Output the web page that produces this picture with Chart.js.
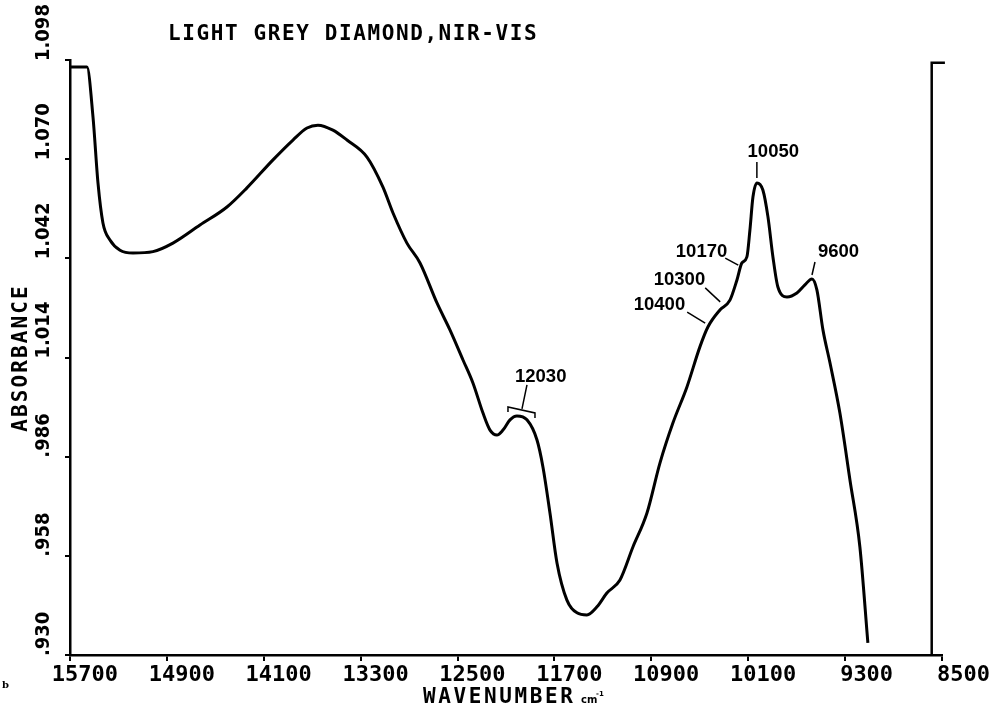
<!DOCTYPE html>
<html>
<head>
<meta charset="utf-8">
<title>Light grey diamond, NIR-VIS</title>
<script src="https://cdn.jsdelivr.net/npm/chart.js@4.4.1/dist/chart.umd.min.js"></script>
<style>
  html, body { margin: 0; padding: 0; background: #fff; }
  #wrap { width: 1002px; height: 709px; }
</style>
</head>
<body>
<div id="wrap"><canvas id="spectrum" width="1002" height="709"></canvas></div>
<script>
// spectrum: wavenumber (cm-1) and absorbance
var wavenumbers = [
  15700, 15560, 15510, 15469, 15428, 15370, 15287, 15180, 15015, 14850,
  14627, 14404, 14239, 14024, 13859, 13743, 13653, 13529, 13413, 13248,
  13116, 13033, 12918, 12810, 12670, 12563, 12455, 12373, 12290, 12232,
  12175, 12125, 12067, 12010, 11927, 11844, 11795, 11737, 11679, 11597,
  11514, 11432, 11349, 11267, 11159, 11052, 10936, 10829, 10722, 10606,
  10499, 10433, 10334, 10251, 10193, 10152, 10111, 10086, 10061, 10028,
  9979, 9937, 9896, 9855, 9780, 9698, 9632, 9574, 9533, 9483,
  9425, 9343, 9260, 9178, 9112
];
var absorbance = [
  1.0960, 1.0960, 1.0819, 1.0633, 1.0520, 1.0472, 1.0443, 1.0435, 1.0439, 1.0463,
  1.0514, 1.0565, 1.0619, 1.0698, 1.0754, 1.0788, 1.0796, 1.0782, 1.0754, 1.0706,
  1.0621, 1.0548, 1.0463, 1.0407, 1.0294, 1.0218, 1.0133, 1.0068, 0.9983, 0.9935,
  0.9921, 0.9935, 0.9964, 0.9975, 0.9964, 0.9907, 0.9831, 0.9701, 0.9560, 0.9455,
  0.9419, 0.9413, 0.9436, 0.9475, 0.9512, 0.9605, 0.9701, 0.9842, 0.9955, 1.0057,
  1.0170, 1.0226, 1.0274, 1.0302, 1.0359, 1.0407, 1.0424, 1.0500, 1.0593, 1.0633,
  1.0613, 1.0537, 1.0424, 1.0339, 1.0311, 1.0322, 1.0345, 1.0362, 1.0331, 1.0218,
  1.0125, 0.9983, 0.9794, 0.9605, 0.9334
];

var xTicks = [15700, 14900, 14100, 13300, 12500, 11700, 10900, 10100, 9300, 8500];
var xTickLabels = ['15700', '14900', '14100', '13300', '12500', '11700', '10900', '10100', '9300', '8500'];
var yTicks = [0.930, 0.958, 0.986, 1.014, 1.042, 1.070, 1.098];
var yTickLabels = ['.930', '.958', '.986', '1.014', '1.042', '1.070', '1.098'];

// labelled features: printed value and absorbance where the pointer ends
var peakLabels = ['12030', '10050', '10170', '10300', '10400', '9600'];
var peakWavenumbers = [12030, 10050, 10170, 10300, 10400, 9600];
var peakAbsorbance = [0.9992, 1.0641, 1.0401, 1.0297, 1.0237, 1.0373];

// vertical marker on the right side
var markerX = [8585, 8585, 8476];
var markerY = [0.930, 1.0972, 1.0972];

// where each label sits relative to its pointer (pixels)
var calloutLayout = [
  { tx: 0.5, ty: -28, align: 'left', leader: [12.5, -25, 7.5, -1], bracket: [-6.5, -3, 20.5, 3] },
  { tx: 19, ty: -23, align: 'center', leader: [2.6, -18, 2.6, -2] },
  { tx: -12.5, ty: -8, align: 'right', leader: [-14.5, -7, -1.5, 0] },
  { tx: -18.8, ty: -17, align: 'right', leader: [-18.8, -14, -3.8, 0] },
  { tx: -26.7, ty: -13, align: 'right', leader: [-24.7, -11, -6.7, 0] },
  { tx: 9.2, ty: -18, align: 'left', leader: [6.2, -13, 3.2, 0] }
];

var plotFont = 'DejaVu Sans Mono';

var textPlugin = {
  id: 'plotText',
  afterDraw: function (chart) {
    var ctx = chart.ctx;
    var x = chart.scales.x, y = chart.scales.y;
    ctx.save();
    ctx.fillStyle = '#000';
    ctx.strokeStyle = '#000';

    // title
    ctx.font = 'bold 21px "' + plotFont + '"';
    ctx.letterSpacing = '1.6px';
    ctx.textAlign = 'left';
    ctx.textBaseline = 'alphabetic';
    ctx.fillText('LIGHT GREY DIAMOND,NIR-VIS', 168, 40);

    // x axis title
    ctx.letterSpacing = '2.6px';
    ctx.fillText('WAVENUMBER', 423, 703);
    ctx.letterSpacing = '0px';
    ctx.font = 'bold 10px "DejaVu Sans"';
    ctx.fillText('cm', 581, 703);
    ctx.font = 'bold 7px "DejaVu Sans"';
    ctx.fillText('-1', 596, 696);

    // y axis title
    ctx.save();
    ctx.translate(27, 358);
    ctx.rotate(-Math.PI / 2);
    ctx.font = 'bold 21px "' + plotFont + '"';
    ctx.letterSpacing = '2.1px';
    ctx.textAlign = 'center';
    ctx.fillText('ABSORBANCE', 0, 0);
    ctx.restore();

    // y tick labels, reading upwards from each tick
    ctx.letterSpacing = '0px';
    ctx.font = 'bold 20px "DejaVu Sans Condensed"';
    ctx.textAlign = 'left';
    for (var k = 0; k < yTicks.length; k++) {
      ctx.save();
      ctx.translate(49, y.getPixelForValue(yTicks[k]) + 1);
      ctx.rotate(-Math.PI / 2);
      ctx.fillText(yTickLabels[k], 0, 0);
      ctx.restore();
    }

    // little panel letter
    ctx.font = 'bold 10px "DejaVu Serif"';
    ctx.fillText('b', 2, 688);

    // peak callouts
    ctx.font = 'bold 18.5px "Liberation Sans"';
    ctx.lineWidth = 1.5;
    for (var i = 0; i < peakLabels.length; i++) {
      var px = x.getPixelForValue(peakWavenumbers[i]);
      var py = y.getPixelForValue(peakAbsorbance[i]);
      var c = calloutLayout[i];
      ctx.textAlign = c.align;
      ctx.fillText(peakLabels[i], px + c.tx, py + c.ty);
      ctx.beginPath();
      ctx.moveTo(px + c.leader[0], py + c.leader[1]);
      ctx.lineTo(px + c.leader[2], py + c.leader[3]);
      if (c.bracket) {
        var b = c.bracket;
        ctx.moveTo(px + b[0], py + b[1] + 5);
        ctx.lineTo(px + b[0], py + b[1]);
        ctx.lineTo(px + b[2], py + b[3]);
        ctx.lineTo(px + b[2], py + b[3] + 5);
      }
      ctx.stroke();
    }
    ctx.restore();
  }
};

var ctx = document.getElementById('spectrum').getContext('2d');
var spectrumChart = new Chart(ctx, {
  type: 'line',
  data: {
    datasets: [{
      label: 'Absorbance',
      data: wavenumbers.map(function (w, i) { return { x: w, y: absorbance[i] }; }),
      borderColor: '#000',
      borderWidth: 3,
      pointRadius: 0,
      cubicInterpolationMode: 'monotone',
      fill: false
    }, {
      label: 'Marker',
      data: markerX.map(function (w, i) { return { x: w, y: markerY[i] }; }),
      borderColor: '#000',
      borderWidth: 2.5,
      pointRadius: 0,
      tension: 0,
      clip: false,
      fill: false
    }]
  },
  options: {
    responsive: false,
    animation: false,
    layout: { padding: { left: 43, top: 60, right: 60, bottom: 0 } },
    plugins: {
      legend: { display: false },
      tooltip: { enabled: false },
      title: { display: false }
    },
    scales: {
      x: {
        type: 'linear',
        reverse: true,
        min: 8500,
        max: 15700,
        afterBuildTicks: function (s) { s.ticks = xTicks.map(function (v) { return { value: v }; }); },
        afterFit: function (s) { s.height = 54; },
        grid: { drawOnChartArea: false, drawTicks: true, tickLength: 6, color: '#000', lineWidth: 2 },
        border: { display: true, color: '#000', width: 2.5 },
        ticks: {
          autoSkip: false,
          minRotation: 0,
          maxRotation: 0,
          align: 'end',
          labelOffset: 48,
          padding: 1,
          color: '#000',
          font: { family: plotFont, weight: 'bold', size: 22 },
          callback: function (v, i) { return xTickLabels[i]; }
        }
      },
      y: {
        type: 'linear',
        min: 0.930,
        max: 1.098,
        afterBuildTicks: function (s) { s.ticks = yTicks.map(function (v) { return { value: v }; }); },
        afterFit: function (s) { s.width = 27; },
        grid: { drawOnChartArea: false, drawTicks: true, tickLength: 5, color: '#000', lineWidth: 2 },
        border: { display: true, color: '#000', width: 2.5 },
        ticks: { display: false }
      }
    }
  },
  plugins: [textPlugin]
});
</script>
</body>
</html>
